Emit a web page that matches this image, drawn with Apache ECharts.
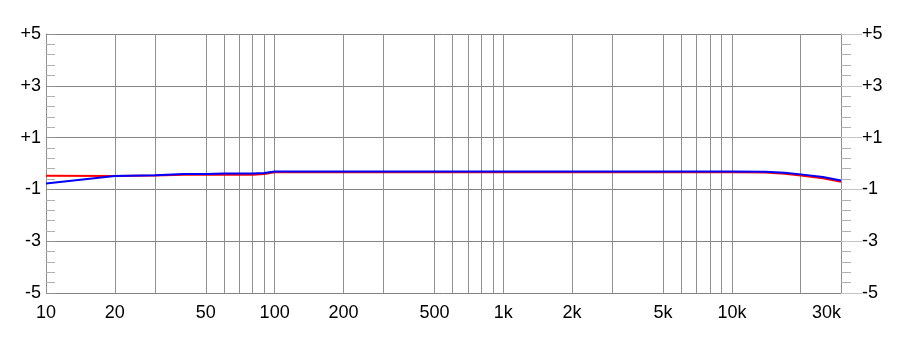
<!DOCTYPE html>
<html>
<head>
<meta charset="utf-8">
<script src="https://cdn.jsdelivr.net/npm/echarts@6/dist/echarts.min.js"></script>
<style>
html,body{margin:0;padding:0;background:#fff;}
#chart{width:900px;height:347px;}
</style>
</head>
<body>
<div id="chart"></div>
<script>
// Frequencies (Hz) of the sampled points
var freqs = [10, 20, 30, 40, 50, 60, 70, 80, 90, 100, 200, 500, 1000, 2000, 5000, 10000, 14000, 17000, 20000, 25000, 30000];
// Red channel (dB)
var redValues = [-0.47, -0.48, -0.46, -0.43, -0.43, -0.43, -0.43, -0.43, -0.41, -0.34, -0.34, -0.34, -0.34, -0.34, -0.34, -0.34, -0.35, -0.40, -0.46, -0.57, -0.71];
// Blue channel (dB)
var blueValues = [-0.77, -0.48, -0.45, -0.41, -0.41, -0.39, -0.39, -0.39, -0.37, -0.31, -0.31, -0.31, -0.31, -0.31, -0.31, -0.31, -0.32, -0.36, -0.42, -0.52, -0.66];
// X axis labels
var xLabelFreqs = [10, 20, 50, 100, 200, 500, 1000, 2000, 5000, 10000, 30000];
var xLabelTexts = ['10', '20', '50', '100', '200', '500', '1k', '2k', '5k', '10k', '30k'];
// Vertical grid lines
var xGridFreqs = [20, 30, 50, 60, 70, 80, 90, 100, 200, 300, 500, 600, 700, 800, 900, 1000, 2000, 3000, 5000, 6000, 7000, 8000, 9000, 10000, 20000];
// Y axis
var yMin = -5, yMax = 5, yStep = 2;

var lg = function (f) { return Math.log10(f); };
var chart = echarts.init(document.getElementById('chart'));
var font = '"Liberation Sans", Arial, sans-serif';
var yFmt = function (v) { return v > 0 ? '+' + v : String(v); };

chart.setOption({
  animation: false,
  backgroundColor: '#ffffff',
  grid: { left: 46, right: 59, top: 34, bottom: 54, containLabel: false },
  xAxis: {
    type: 'value',
    min: lg(10),
    max: lg(30000),
    axisLine: { show: false },
    axisTick: { show: false, customValues: xGridFreqs.map(lg) },
    splitLine: { show: true, lineStyle: { color: '#8f8f8f', width: 1 } },
    axisLabel: {
      customValues: xLabelFreqs.map(lg),
      color: '#000',
      fontSize: 18,
      fontFamily: font,
      margin: 11,
      alignMaxLabel: 'right',
      formatter: function (v) {
        var best = 0, d = Infinity;
        for (var i = 0; i < xLabelFreqs.length; i++) {
          var dd = Math.abs(lg(xLabelFreqs[i]) - v);
          if (dd < d) { d = dd; best = i; }
        }
        return xLabelTexts[best];
      }
    }
  },
  yAxis: [
    {
      type: 'value', position: 'left', min: yMin, max: yMax, interval: yStep,
      axisLine: { show: true, lineStyle: { color: '#8f8f8f' } },
      axisTick: { show: true, inside: true, length: 9, lineStyle: { color: '#8f8f8f' } },
      minorTick: { show: true, splitNumber: 5, length: 9, lineStyle: { color: '#b0b0b0' } },
      splitLine: { show: true, lineStyle: { color: '#848484', width: 1 } },
      axisLabel: { color: '#000', fontSize: 18, fontFamily: font, margin: 5, formatter: yFmt }
    },
    {
      type: 'value', position: 'right', min: yMin, max: yMax, interval: yStep,
      axisLine: { show: true, lineStyle: { color: '#8f8f8f' } },
      axisTick: { show: true, inside: false, length: 21, lineStyle: { color: '#c4c4c4' } },
      minorTick: { show: true, splitNumber: 5, length: 10, lineStyle: { color: '#b0b0b0' } },
      splitLine: { show: false },
      axisLabel: { color: '#000', fontSize: 18, fontFamily: font, margin: 21, formatter: yFmt }
    }
  ],
  series: [
    {
      type: 'line', name: 'red', showSymbol: false, symbol: 'none',
      lineStyle: { color: '#ff0000', width: 2 },
      data: freqs.map(function (f, i) { return [lg(f), redValues[i]]; }),
      z: 3
    },
    {
      type: 'line', name: 'blue', showSymbol: false, symbol: 'none',
      lineStyle: { color: '#0000ff', width: 2 },
      data: freqs.map(function (f, i) { return [lg(f), blueValues[i]]; }),
      z: 4
    }
  ]
});
</script>
</body>
</html>
